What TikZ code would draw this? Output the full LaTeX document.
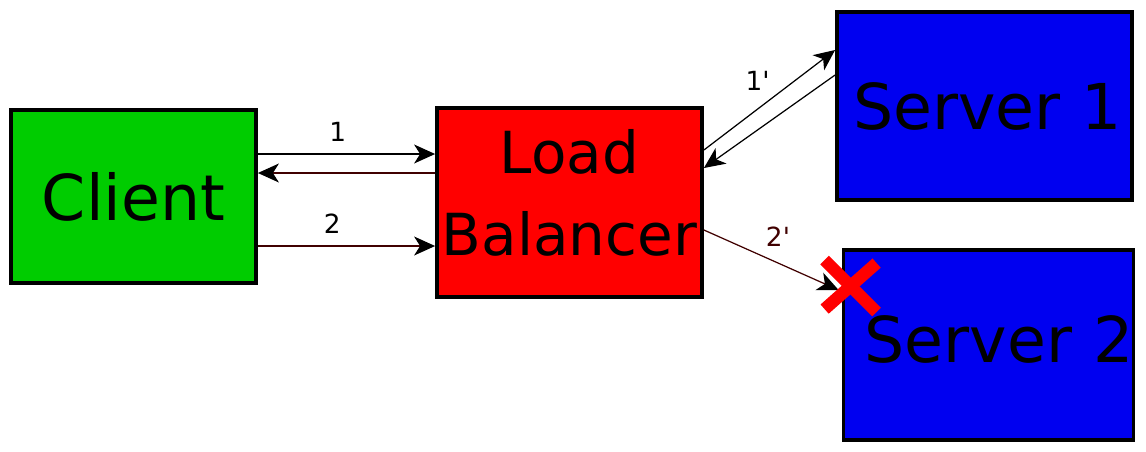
\documentclass[tikz,border=0pt]{standalone}
\usepackage{fontspec}
\setmainfont{DejaVu Sans}
\usetikzlibrary{arrows.meta,calc}
\definecolor{clientgreen}{RGB}{0,204,0}
\definecolor{lbred}{RGB}{255,0,0}
\definecolor{serverblue}{RGB}{0,0,240}
\definecolor{darkline}{RGB}{64,0,0}

\begin{document}
\begin{tikzpicture}[x=0.02cm,y=-0.02cm,
    box/.style={draw=black,line width=2.2pt,inner sep=0pt,font=\fontsize{36}{43}\selectfont},
    msg/.style={-{Stealth[length=0.42cm,width=0.38cm,inset=0.12cm,color=black]},line width=0.7pt},
    lbl/.style={font=\fontsize{15}{18}\selectfont},
    cross/.style={draw=lbred,line width=7pt}]
    \useasboundingbox (0,0) rectangle (1146,451);
    % boxes
    \node[box,fill=clientgreen,minimum width=4.9cm,minimum height=3.46cm] (client) at (133.5,196.5) {Client};
    \node[box,fill=lbred,minimum width=5.3cm,minimum height=3.78cm,align=center,text depth=0.4cm,
          font=\fontsize{33}{46.7}\selectfont] (lb) at (569.5,202.5) {Load\\Balancer};
    \node[box,fill=serverblue,text width=5.5cm,inner xsep=0.2cm,align=right,minimum height=3.76cm] (s1) at (984.5,106) {Server 1};
    \node[box,fill=serverblue,text width=5.8cm,align=right,minimum height=3.8cm,text depth=0.24cm] (s2) at (988.5,345) {Server 2};
    % client <-> load balancer
    \draw[msg] ($(client.east)+(0,-42.5)$) -- ($(lb.west)+(0,-48.5)$) node[lbl,pos=.45,yshift=0.44cm] (l1) {1};
    \draw[msg,darkline] ($(lb.west)+(0,-29.5)$) -- ($(client.east)+(0,-23.5)$);
    \draw[msg,darkline] ($(client.east)+(0,49.5)$) -- ($(lb.west)+(0,43.5)$) node[lbl,text=black,pos=.42,yshift=0.44cm] (l2) {2};
    % load balancer <-> servers
    \draw[msg] ($(lb.east)+(0,-52.5)$) -- ($(s1.west)+(0,-56)$) node[lbl,pos=.41,yshift=0.56cm] (l1p) {1\textquotesingle};
    \draw[msg] ($(s1.west)+(0,-31)$) -- ($(lb.east)+(0,-34.5)$);
    \draw[msg,darkline] ($(lb.east)+(0,27.5)$) -- ($(s2.west)+(-3,-55)$) node[lbl,pos=.55,yshift=0.52cm] (l2p) {2\textquotesingle};
    % failed server
    \coordinate (fail) at ($(s2.north west)+(9,38)$);
    \draw[cross] ($(fail)+(-26,-26)$) -- ($(fail)+(26,26)$);
    \draw[cross] ($(fail)+(26,-23)$) -- ($(fail)+(-26,23)$);
\end{tikzpicture}
\end{document}
